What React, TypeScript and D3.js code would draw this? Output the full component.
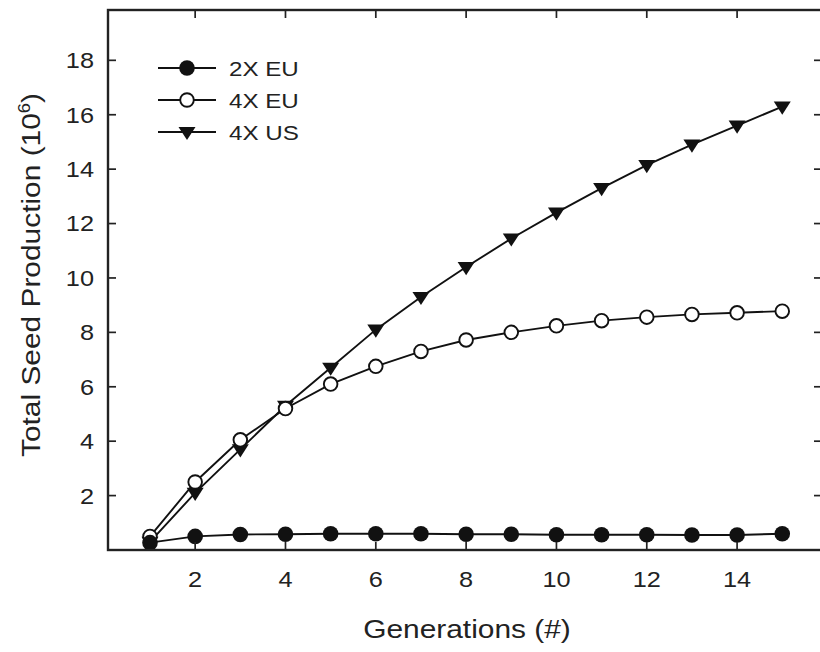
import React from "react";
import * as d3 from "d3";

const generations = [1, 2, 3, 4, 5, 6, 7, 8, 9, 10, 11, 12, 13, 14, 15];
const eu2x = [0.27, 0.5, 0.57, 0.58, 0.6, 0.6, 0.6, 0.58, 0.58, 0.56, 0.56, 0.56, 0.55, 0.55, 0.6];
const eu4x = [0.5, 2.5, 4.05, 5.2, 6.1, 6.75, 7.3, 7.72, 8.0, 8.24, 8.43, 8.56, 8.66, 8.72, 8.78];
const us4x = [0.3, 2.1, 3.7, 5.3, 6.7, 8.1, 9.3, 10.4, 11.45, 12.4, 13.3, 14.15, 14.9, 15.6, 16.3];
const xTicks = [2, 4, 6, 8, 10, 12, 14];
const yTicks = [2, 4, 6, 8, 10, 12, 14, 16, 18];
const seriesNames = ["2X EU", "4X EU", "4X US"];

const W = 820;
const H = 652;
const left = 108;
const right = 822;
const top = 10;
const bottom = 550;
const font = "Liberation Sans, Arial, Helvetica, sans-serif";
const ink = "#111";
const textInk = "#222";
// the original's lettering is a touch wider than Liberation Sans
const stretch = 1.15;

const x = d3.scaleLinear().domain([0.07, 15.88]).range([left, right]);
const y = d3.scaleLinear().domain([0, 19.85]).range([bottom, top]);

const line = d3
  .line<number>()
  .x((_, i) => x(generations[i]))
  .y((d) => y(d));

type Kind = "dot" | "ring" | "tri";
const kinds: Kind[] = ["dot", "ring", "tri"];
const seriesData = [eu2x, eu4x, us4x];

function Marker({ kind, cx, cy }: { kind: Kind; cx: number; cy: number }) {
  if (kind === "dot") return <circle cx={cx} cy={cy} r={7.8} fill={ink} />;
  if (kind === "ring")
    return <circle cx={cx} cy={cy} r={6.8} fill="#fff" stroke={ink} strokeWidth={1.9} />;
  const s = 8.5;
  const pts = [
    [cx - s, cy - s * 0.6],
    [cx + s, cy - s * 0.6],
    [cx, cy + s * 0.95],
  ]
    .map((p) => p.join(","))
    .join(" ");
  return <polygon points={pts} fill={ink} />;
}

function Label({
  tx,
  ty,
  size,
  anchor = "start",
  rotate = 0,
  dy,
  children,
}: {
  tx: number;
  ty: number;
  size: number;
  anchor?: string;
  rotate?: number;
  dy?: string;
  children: React.ReactNode;
}) {
  return (
    <text
      transform={`translate(${tx},${ty}) rotate(${rotate}) scale(${stretch},1)`}
      dy={dy}
      textAnchor={anchor}
      fontFamily={font}
      fontSize={size}
      fill={textInk}
    >
      {children}
    </text>
  );
}

export default function App() {
  const tickLen = 8;
  return (
    <div>
      <style>{"body{margin:0;background:#fff}"}</style>
      <svg width={W} height={H} style={{ display: "block" }}>
        <rect width={W} height={H} fill="#fff" />

        {/* series */}
        {[2, 1, 0].map((si) => (
          <g key={si}>
            <path d={line(seriesData[si]) || ""} fill="none" stroke={ink} strokeWidth={1.9} />
            {seriesData[si].map((v, i) => (
              <Marker key={i} kind={kinds[si]} cx={x(generations[i])} cy={y(v)} />
            ))}
          </g>
        ))}

        {/* frame */}
        <rect
          x={left}
          y={top}
          width={right - left}
          height={bottom - top}
          fill="none"
          stroke="#222"
          strokeWidth={2.4}
        />

        {/* x ticks */}
        {xTicks.map((t) => (
          <g key={"x" + t}>
            <line x1={x(t)} x2={x(t)} y1={bottom} y2={bottom - tickLen} stroke="#222" strokeWidth={1.7} />
            <line x1={x(t)} x2={x(t)} y1={top} y2={top + tickLen} stroke="#222" strokeWidth={1.7} />
            <Label tx={x(t)} ty={bottom + 37} size={22} anchor="middle">
              {t}
            </Label>
          </g>
        ))}

        {/* y ticks */}
        {yTicks.map((t) => (
          <g key={"y" + t}>
            <line x1={left} x2={left + tickLen} y1={y(t)} y2={y(t)} stroke="#222" strokeWidth={1.7} />
            <line x1={right} x2={right - tickLen} y1={y(t)} y2={y(t)} stroke="#222" strokeWidth={1.7} />
            <Label tx={left - 14} ty={y(t)} size={22} anchor="end" dy="0.36em">
              {t}
            </Label>
          </g>
        ))}

        {/* axis labels */}
        <Label tx={467} ty={638} size={26} anchor="middle">
          Generations (#)
        </Label>
        <Label tx={40} ty={275} size={26} anchor="middle" rotate={-90}>
          Total Seed Production (10
          <tspan dy={-10} fontSize={16}>
            6
          </tspan>
          <tspan dy={10}>)</tspan>
        </Label>

        {/* legend */}
        {seriesNames.map((name, i) => {
          const ly = 68 + i * 32;
          return (
            <g key={name}>
              <line x1={158} x2={216} y1={ly} y2={ly} stroke={ink} strokeWidth={1.9} />
              <Marker kind={kinds[i]} cx={187} cy={ly} />
              <Label tx={229} ty={ly} size={21} dy="0.36em">
                {name}
              </Label>
            </g>
          );
        })}
      </svg>
    </div>
  );
}
